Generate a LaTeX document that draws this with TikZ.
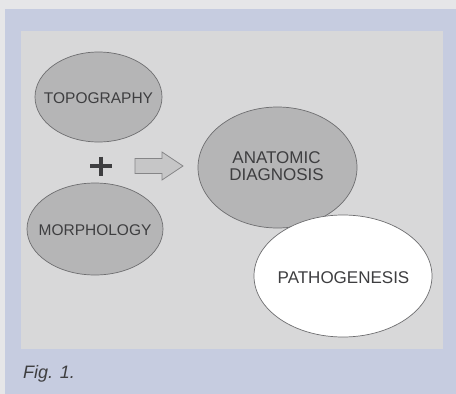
\documentclass[tikz,border=0pt]{standalone}
\usepackage{fontspec}
\setmainfont{Liberation Sans}
\usetikzlibrary{shapes.geometric}
\definecolor{topgrey}{HTML}{E6E6E8}
\definecolor{frameblue}{HTML}{C6CCE0}
\definecolor{panelgrey}{HTML}{D8D8D9}
\definecolor{ellgrey}{HTML}{B5B5B6}
\definecolor{ellline}{HTML}{6E6E70}
\definecolor{txtgrey}{HTML}{3E3E40}
\definecolor{arrfill}{HTML}{C6C6C7}
\definecolor{arrline}{HTML}{858587}
\tikzset{
  oval/.style={ellipse, draw=ellline, line width=0.7pt, fill=ellgrey, inner sep=0pt},
  lbl/.style={text=txtgrey, align=center, inner sep=0pt},
  small/.style={font=\fontsize{15.5}{17}\selectfont},
  big/.style={font=\fontsize{17}{17}\selectfont},
}
\begin{document}
\begin{tikzpicture}[x=1pt,y=-1pt]
\useasboundingbox (0,0) rectangle (456,394);
\fill[topgrey] (0,0) rectangle (456,394);
\fill[frameblue] (5,9) rectangle (456,394);
\fill[panelgrey] (21,31) rectangle (443,349);
\node[oval, minimum width=127, minimum height=90] (topo) at (98.5,97) {};
\node[lbl, small] (topot) at ([shift={(0,1.5)}]topo.center) {TOPOGRAPHY};
\node[oval, minimum width=136, minimum height=92] (morph) at (95,229) {};
\node[lbl, small] (morpht) at ([shift={(0,1)}]morph.center) {MORPHOLOGY};
\node[oval, minimum width=159, minimum height=121] (anat) at (277.5,167.5) {};
\node[lbl, big] (anatt) at ([shift={(-1,-1)}]anat.center) {ANATOMIC\\DIAGNOSIS};
\node[oval, fill=white, minimum width=178, minimum height=122] (path) at (343,276) {};
\node[lbl, big] (patht) at ([shift={(0.5,2)}]path.center) {PATHOGENESIS};
\coordinate (plus) at (101,166);
\draw[txtgrey, line width=4pt] ([shift={(-11,0)}]plus) -- ([shift={(11,0)}]plus);
\draw[txtgrey, line width=4pt] ([shift={(0,-9.5)}]plus) -- ([shift={(0,9.5)}]plus);
\coordinate (arrtail) at (135,166);
\coordinate (arrtip) at (183,166);
\draw[arrline, fill=arrfill, line width=0.7pt, line join=miter]
  ([shift={(0,-7.5)}]arrtail) -- ++(27,0) -- ++(0,-6.5) -- (arrtip) -- ++(-21,14)
  -- ++(0,-6.5) -- ([shift={(0,7.5)}]arrtail) -- cycle;
\node[anchor=base west, text=txtgrey, font=\fontsize{18}{20}\selectfont\itshape, inner sep=0pt] (fig) at (23,378) {Fig. 1.};
\end{tikzpicture}
\end{document}
